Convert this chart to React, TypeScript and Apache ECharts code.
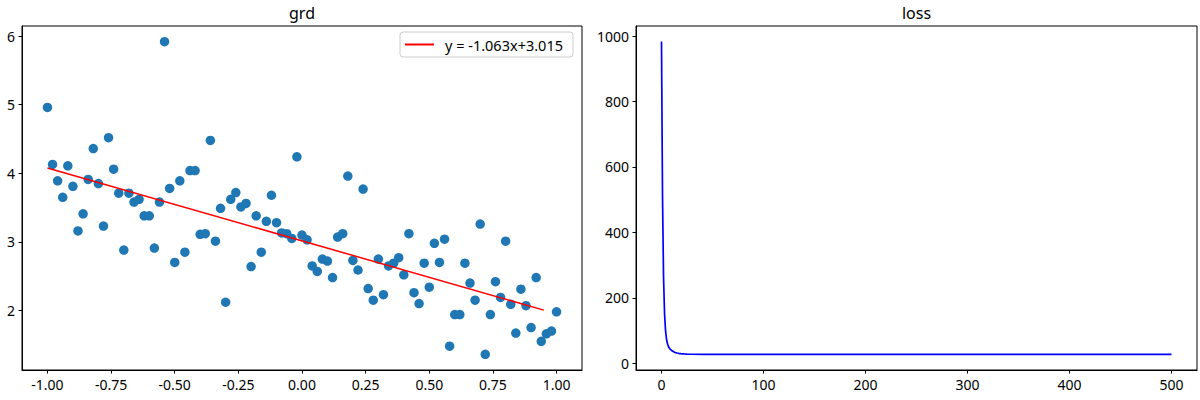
import React, { useEffect, useRef } from "react";
import * as echarts from "echarts";

const FONT = '"Noto Sans", "DejaVu Sans", sans-serif';

// ---- left panel: "grd" ----
const gradX = [
  -1.0, -0.98, -0.96, -0.94, -0.92, -0.9, -0.88, -0.86, -0.84, -0.82,
  -0.8, -0.78, -0.76, -0.74, -0.72, -0.7, -0.68, -0.66, -0.64, -0.62,
  -0.6, -0.58, -0.56, -0.54, -0.52, -0.5, -0.48, -0.46, -0.44, -0.42,
  -0.4, -0.38, -0.36, -0.34, -0.32, -0.3, -0.28, -0.26, -0.24, -0.22,
  -0.2, -0.18, -0.16, -0.14, -0.12, -0.1, -0.08, -0.06, -0.04, -0.02,
  0.0, 0.02, 0.04, 0.06, 0.08, 0.1, 0.12, 0.14, 0.16, 0.18,
  0.2, 0.22, 0.24, 0.26, 0.28, 0.3, 0.32, 0.34, 0.36, 0.38,
  0.4, 0.42, 0.44, 0.46, 0.48, 0.5, 0.52, 0.54, 0.56, 0.58,
  0.6, 0.62, 0.64, 0.66, 0.68, 0.7, 0.72, 0.74, 0.76, 0.78,
  0.8, 0.82, 0.84, 0.86, 0.88, 0.9, 0.92, 0.94, 0.96, 0.98,
  1.0,
];
const gradY = [
  4.96, 4.13, 3.89, 3.65, 4.11, 3.81, 3.16, 3.41, 3.91, 4.36,
  3.85, 3.23, 4.52, 4.06, 3.71, 2.88, 3.71, 3.58, 3.62, 3.38,
  3.38, 2.91, 3.58, 5.92, 3.78, 2.7, 3.89, 2.85, 4.04, 4.04,
  3.11, 3.12, 4.48, 3.01, 3.49, 2.12, 3.62, 3.72, 3.51, 3.56,
  2.64, 3.38, 2.85, 3.3, 3.68, 3.28, 3.13, 3.12, 3.05, 4.24,
  3.1, 3.03, 2.65, 2.57, 2.75, 2.72, 2.48, 3.07, 3.12, 3.96,
  2.73, 2.59, 3.77, 2.32, 2.15, 2.75, 2.23, 2.65, 2.69, 2.77,
  2.52, 3.12, 2.26, 2.1, 2.69, 2.34, 2.98, 2.7, 3.04, 1.48,
  1.94, 1.94, 2.69, 2.4, 2.15, 3.26, 1.36, 1.94, 2.42, 2.19,
  3.01, 2.09, 1.67, 2.31, 2.07, 1.75, 2.48, 1.55, 1.66, 1.7,
  1.98,
];
const fitLabel = "y = -1.063x+3.015";
const fitX = [-1.0, 0.95];
const fitY = [4.078, 2.005];
const gradXTicks = [-1, -0.75, -0.5, -0.25, 0, 0.25, 0.5, 0.75, 1];
const gradYTicks = [2, 3, 4, 5, 6];

// ---- right panel: "loss" ----
const lossEpochs = [
  0, 1, 2, 3, 4, 5, 6, 7, 8, 9, 10, 11, 12, 13, 14, 15, 16, 17, 18, 19, 20,
  22, 25, 30, 40, 50, 100, 200, 300, 400, 500,
];
const lossValues = [
  983, 510, 265, 150, 98, 72, 58, 50, 45, 41.5, 39, 37, 35, 33.5, 32.4, 31.5,
  30.8, 30.2, 29.7, 29.3, 29.0, 28.5, 28.1, 27.7, 27.4, 27.3, 27.3, 27.3, 27.3,
  27.3, 27.3,
];
const lossXTicks = [0, 100, 200, 300, 400, 500];
const lossYTicks = [0, 200, 400, 600, 800, 1000];

const titles = ["grd", "loss"];

const axisCommon = (ticks: number[], fmt?: (v: number) => string) => ({
  type: "value" as const,
  axisLine: { show: true, onZero: false, lineStyle: { color: "#000", width: 1 } },
  axisTick: {
    show: true,
    inside: false,
    length: 3.5,
    lineStyle: { color: "#000", width: 1 },
    customValues: ticks,
  },
  axisLabel: {
    show: true,
    customValues: ticks,
    color: "#000",
    fontSize: 14,
    fontFamily: FONT,
    margin: 7,
    formatter: fmt ? (v: number) => fmt(v) : (v: number) => String(v),
  },
  splitLine: { show: false },
});

export default function App() {
  const ref = useRef<HTMLDivElement>(null);

  useEffect(() => {
    if (!ref.current) return;
    const chart = echarts.init(ref.current, undefined, { renderer: "svg" });

    const scatterData = gradX.map((x, i) => [x, gradY[i]]);
    const fitData = fitX.map((x, i) => [x, fitY[i]]);
    const lossData = lossEpochs.map((e, i) => [e, lossValues[i]]);

    const option: any = {
      animation: false,
      backgroundColor: "#fff",
      textStyle: { fontFamily: FONT },
      grid: [
        { left: 22, top: 26, width: 560, height: 344, show: true, borderColor: "#000", borderWidth: 1, backgroundColor: "transparent" },
        { left: 636, top: 26, width: 561, height: 344, show: true, borderColor: "#000", borderWidth: 1, backgroundColor: "transparent" },
      ],
      xAxis: [
        { ...axisCommon(gradXTicks, (v) => v.toFixed(2)), gridIndex: 0, min: -1.1, max: 1.1 },
        { ...axisCommon(lossXTicks), gridIndex: 1, min: -25, max: 525 },
      ],
      yAxis: [
        { ...axisCommon(gradYTicks), gridIndex: 0, min: 1.132, max: 6.148 },
        { ...axisCommon(lossYTicks), gridIndex: 1, min: -20.5, max: 1030.6 },
      ],
      legend: {
        data: [{ name: fitLabel, icon: "rect" }],
        left: 400,
        top: 32,
        orient: "horizontal",
        itemWidth: 29,
        itemHeight: 2,
        padding: [5, 10, 5, 5],
        borderColor: "#cccccc",
        borderWidth: 1,
        borderRadius: 3,
        backgroundColor: "rgba(255,255,255,0.8)",
        textStyle: { fontSize: 14.5, color: "#000", fontFamily: FONT, padding: [0, 0, 0, 6] },
      },
      graphic: titles.map((t, i) => ({
        type: "text",
        x: i === 0 ? 302 : 916.5,
        y: 21,
        style: {
          text: t,
          fontSize: 16,
          fontFamily: FONT,
          fill: "#000",
          align: "center",
          verticalAlign: "bottom",
        },
      })),
      series: [
        {
          type: "scatter",
          name: "data",
          xAxisIndex: 0,
          yAxisIndex: 0,
          data: scatterData,
          symbolSize: 9.5,
          itemStyle: { color: "#1f77b4", opacity: 1 },
          z: 2,
        },
        {
          type: "line",
          name: fitLabel,
          xAxisIndex: 0,
          yAxisIndex: 0,
          data: fitData,
          showSymbol: false,
          symbol: "none",
          lineStyle: { color: "#ff0000", width: 1.5 },
          itemStyle: { color: "#ff0000" },
          z: 3,
        },
        {
          type: "line",
          name: "loss",
          xAxisIndex: 1,
          yAxisIndex: 1,
          data: lossData,
          showSymbol: false,
          symbol: "none",
          lineStyle: { color: "#0000ff", width: 1.7 },
          itemStyle: { color: "#0000ff" },
          z: 3,
        },
      ],
    };

    chart.setOption(option);
    return () => chart.dispose();
  }, []);

  return (
    <div
      ref={ref}
      style={{ position: "fixed", left: 0, top: 0, width: 1200, height: 400, background: "#fff" }}
    />
  );
}
